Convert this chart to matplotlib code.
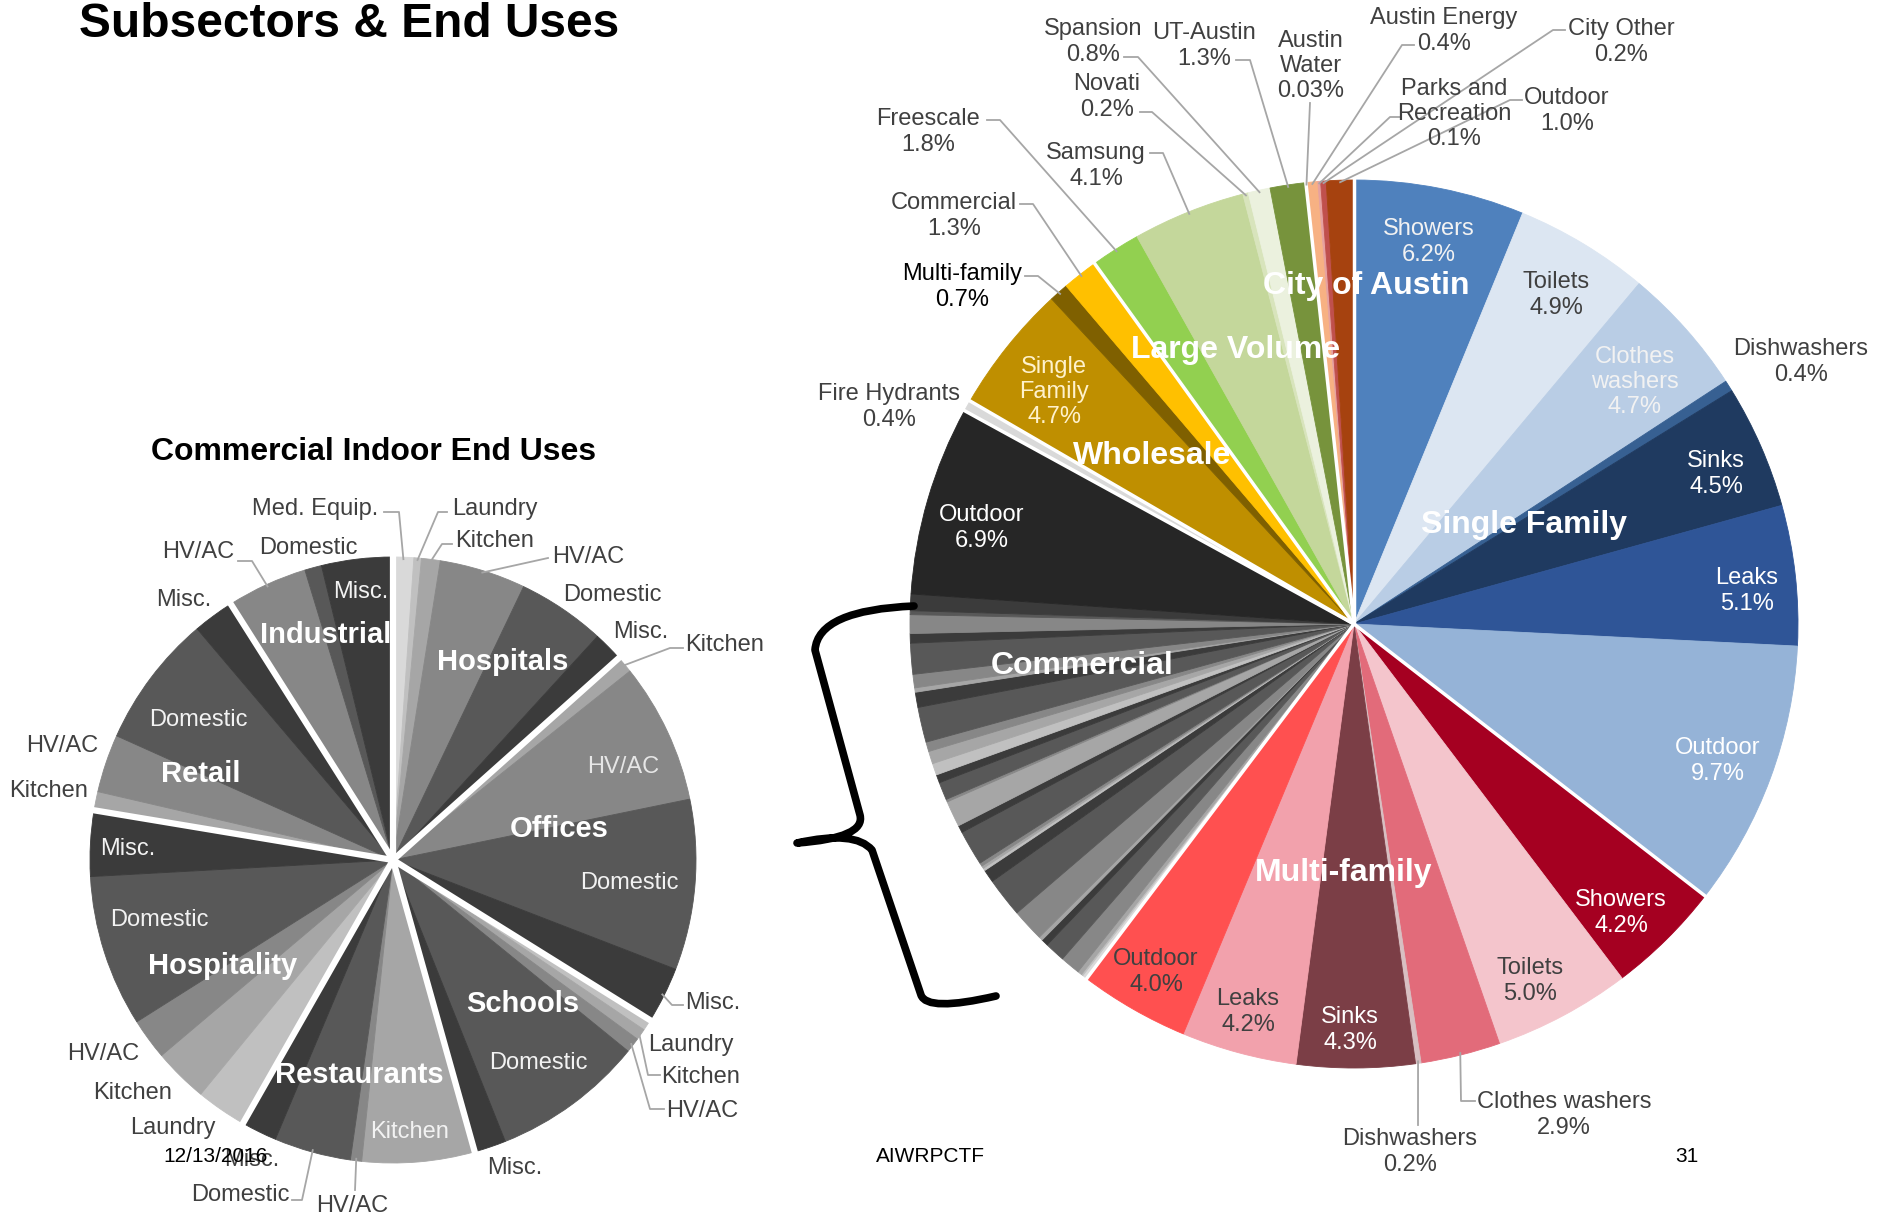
import numpy as np
import matplotlib.pyplot as plt
from matplotlib.path import Path
from matplotlib.patches import PathPatch

plt.rcParams['font.family'] = ['Liberation Sans', 'DejaVu Sans']

W, H = 1878, 1218

# ---- left pie: commercial indoor end uses (share of commercial indoor, %) ----
left_groups = ["Hospitals", "Offices", "Schools", "Restaurants",
               "Hospitality", "Retail", "Industrial"]
hospitals_uses = ["Med. Equip.", "Laundry", "Kitchen", "HV/AC", "Domestic", "Misc."]
hospitals_share = [1.1, 0.4, 1.0, 4.6, 4.7, 1.6]
offices_uses = ["Kitchen", "HV/AC", "Domestic", "Misc."]
offices_share = [0.9, 7.5, 9.1, 3.0]
schools_uses = ["Laundry", "Kitchen", "HV/AC", "Domestic", "Misc."]
schools_share = [0.6, 0.6, 0.8, 8.1, 1.7]
restaurants_uses = ["Kitchen", "HV/AC", "Domestic", "Misc."]
restaurants_share = [6.0, 0.6, 4.1, 1.9]
hospitality_uses = ["Laundry", "Kitchen", "HV/AC", "Domestic", "Misc."]
hospitality_share = [2.7, 2.9, 2.2, 8.1, 3.5]
retail_uses = ["Kitchen", "HV/AC", "Domestic", "Misc."]
retail_share = [1.0, 3.1, 7.1, 2.2]
industrial_uses = ["HV/AC", "Domestic", "Misc."]
industrial_share = [4.3, 0.9, 3.8]

# ---- right pie: subsectors & end uses (% of total) ----
sf_uses = ["Showers", "Toilets", "Clothes washers", "Dishwashers", "Sinks", "Leaks", "Outdoor"]
sf_pct = [6.2, 4.9, 4.7, 0.4, 4.5, 5.1, 9.7]
mf_uses = ["Showers", "Toilets", "Clothes washers", "Dishwashers", "Sinks", "Leaks", "Outdoor"]
mf_pct = [4.2, 5.0, 2.9, 0.2, 4.3, 4.2, 4.0]
comm_indoor_pct = 15.8
comm_outdoor_pct = 6.9
fire_pct = 0.4
wholesale_names = ["Single Family", "Multi-family", "Commercial"]
wholesale_pct = [4.7, 0.7, 1.3]
lv_names = ["Freescale", "Samsung", "Novati", "Spansion", "UT-Austin"]
lv_pct = [1.8, 4.1, 0.2, 0.8, 1.3]
city_names = ["Austin Water", "Austin Energy", "Parks and Recreation", "City Other", "Outdoor"]
city_pct = [0.03, 0.4, 0.1, 0.2, 1.0]

# colours
use_colors = {"Med. Equip.": "#d9d9d9", "Laundry": "#c0c0c0", "Kitchen": "#a6a6a6",
              "HV/AC": "#878787", "Domestic": "#585858", "Misc.": "#3b3b3b"}
sf_colors = ["#4f81bd", "#dce6f2", "#b9cde5", "#376092", "#1f3a60", "#2f5597", "#95b3d7"]
mf_colors = ["#a50021", "#f4c5cc", "#e26b7a", "#d8bfc2", "#7b3e46", "#f2a1ac", "#ff5050"]
wholesale_colors = ["#bf8f00", "#7f6000", "#ffc000"]
lv_colors = ["#92d050", "#c4d79b", "#d8e4bc", "#ebf1de", "#77933c"]
city_colors = ["#f2dcdb", "#f7b183", "#e6a1a0", "#c0504d", "#a6420f"]
DARK = "#404040"
LEAD = "#a6a6a6"


def pct(v):
    return f"{v:.2f}%" if v < 0.1 else f"{v:.1f}%"


fig = plt.figure(figsize=(W / 100, H / 100), dpi=100)
ax = fig.add_axes([0, 0, 1, 1])


def T(x, y, s, **kw):
    kw.setdefault("ha", "center")
    kw.setdefault("va", "center")
    kw.setdefault("multialignment", "center")
    ax.text(x, H - y, s, zorder=6, **kw)


def line_px(pts, **kw):
    ax.plot([p[0] for p in pts], [H - p[1] for p in pts], zorder=5, **kw)


def edge_px(c, r, frac):
    th = np.radians(90 - 360 * frac)
    return (c[0] + r * np.cos(th), c[1] - r * np.sin(th))


def draw_pie(vals, cols, grps, c, r, sep_lw):
    vals = np.array(vals, float)
    wedges, _ = ax.pie(vals, colors=cols, startangle=90, counterclock=False,
                       radius=r, center=(c[0], H - c[1]))
    for w in wedges:
        w.set_edgecolor(w.get_facecolor())
        w.set_linewidth(0.6)
    tot = vals.sum()
    cum = np.cumsum(vals) / tot
    mids = cum - vals / tot / 2
    bounds = [0.0] + [cum[i] for i in range(len(vals) - 1) if grps[i] != grps[i + 1]]
    for b in bounds:
        line_px([c, edge_px(c, r + 2, b)], color="white", lw=sep_lw,
                solid_capstyle="butt")
    return mids


# ---------------- left pie ----------------
LC, LR = (393, 860), 303
left_lists = [(hospitals_uses, hospitals_share), (offices_uses, offices_share),
              (schools_uses, schools_share), (restaurants_uses, restaurants_share),
              (hospitality_uses, hospitality_share), (retail_uses, retail_share),
              (industrial_uses, industrial_share)]
l_vals, l_cols, l_grp, l_keys = [], [], [], []
for g, (uses, share) in zip(left_groups, left_lists):
    for u, s in zip(uses, share):
        l_vals.append(s)
        l_cols.append(use_colors[u])
        l_grp.append(g)
        l_keys.append((g, u))
l_mids = draw_pie(l_vals, l_cols, l_grp, LC, LR, 4.5)

# ---------------- right pie ----------------
RC, RR = (1354, 624), 444
r_vals, r_cols, r_grp, r_keys = [], [], [], []


def add(group, names, vals, cols):
    for n, v, col in zip(names, vals, cols):
        r_vals.append(v)
        r_cols.append(col)
        r_grp.append(group)
        r_keys.append((group, n))


add("SF", sf_uses, sf_pct, sf_colors)
add("MF", mf_uses, mf_pct, mf_colors)
l_tot = sum(l_vals)
add("COM", [k[0] + k[1] for k in l_keys],
    [comm_indoor_pct * v / l_tot for v in l_vals], l_cols)
add("COM", ["Outdoor"], [comm_outdoor_pct], ["#262626"])
add("FH", ["Fire Hydrants"], [fire_pct], ["#d9d9d9"])
add("WS", wholesale_names, wholesale_pct, wholesale_colors)
add("LV", lv_names, lv_pct, lv_colors)
add("CITY", city_names, city_pct, city_colors)
r_mids = draw_pie(r_vals, r_cols, r_grp, RC, RR, 2.5)

ax.set_xlim(0, W)
ax.set_ylim(0, H)
ax.set_aspect("auto")
ax.axis("off")

FS = 17

# right pie labels inside slices
right_inside = {
    ("SF", "Showers"): (1429, 242, "#f2f2f2", "Showers"),
    ("SF", "Toilets"): (1556, 295, DARK, "Toilets"),
    ("SF", "Clothes washers"): (1635, 382, "#f2f2f2", "Clothes\nwashers"),
    ("SF", "Sinks"): (1716, 474, "white", "Sinks"),
    ("SF", "Leaks"): (1747, 591, "white", "Leaks"),
    ("SF", "Outdoor"): (1718, 761, "white", "Outdoor"),
    ("MF", "Showers"): (1621, 913, "white", "Showers"),
    ("MF", "Toilets"): (1530, 981, DARK, "Toilets"),
    ("MF", "Sinks"): (1350, 1030, "white", "Sinks"),
    ("MF", "Leaks"): (1248, 1012, DARK, "Leaks"),
    ("MF", "Outdoor"): (1156, 972, DARK, "Outdoor"),
    ("COM", "Outdoor"): (982, 528, "white", "Outdoor"),
    ("WS", "Single Family"): (1054, 392, "#fff2cc", "Single\nFamily"),
}
for key, (x, y, col, name) in right_inside.items():
    v = r_vals[r_keys.index(key)]
    T(x, y, f"{name}\n{pct(v)}", color=col, fontsize=FS)

# right pie labels outside with leader lines
right_outside = {
    ("SF", "Dishwashers"): (1801, 362, DARK, "Dishwashers", []),
    ("MF", "Clothes washers"): (1564, 1115, DARK, "Clothes washers", [(1461, 1101), (1475, 1101)]),
    ("MF", "Dishwashers"): (1410, 1152, DARK, "Dishwashers", [(1418, 1125)]),
    ("FH", "Fire Hydrants"): (889, 407, DARK, "Fire Hydrants", []),
    ("WS", "Multi-family"): (962, 287, "black", "Multi-family", [(1038, 276), (1025, 276)]),
    ("WS", "Commercial"): (954, 216, DARK, "Commercial", [(1033, 204), (1020, 204)]),
    ("LV", "Freescale"): (928, 132, DARK, "Freescale", [(1000, 120), (987, 120)]),
    ("LV", "Samsung"): (1096, 166, DARK, "Samsung", [(1163, 153), (1150, 153)]),
    ("LV", "Novati"): (1107, 97, DARK, "Novati", [(1152, 112), (1140, 112)]),
    ("LV", "Spansion"): (1093, 42, DARK, "Spansion", [(1138, 57), (1124, 57)]),
    ("LV", "UT-Austin"): (1204, 46, DARK, "UT-Austin", [(1250, 60), (1236, 60)]),
    ("CITY", "Austin Water"): (1311, 66, DARK, "Austin\nWater", [(1310, 103)]),
    ("CITY", "Austin Energy"): (1444, 31, DARK, "Austin Energy", [(1402, 45), (1414, 45)]),
    ("CITY", "Parks and Recreation"): (1454, 114, DARK, "Parks and\nRecreation", [(1390, 117), (1400, 117)]),
    ("CITY", "City Other"): (1621, 42, DARK, "City Other", [(1553, 30), (1565, 30)]),
    ("CITY", "Outdoor"): (1567, 111, DARK, "Outdoor", [(1510, 100), (1522, 100)]),
}
for key, (x, y, col, name, pts) in right_outside.items():
    i = r_keys.index(key)
    T(x, y, f"{name}\n{pct(r_vals[i])}", color=col, fontsize=FS)
    if pts:
        line_px([edge_px(RC, RR - 2, r_mids[i])] + pts, color=LEAD, lw=1.3)

# right pie group names
right_groups = [("Single Family", 1524, 525), ("Multi-family", 1344, 873),
                ("Commercial", 1082, 666), ("Wholesale", 1152, 456),
                ("Large Volume", 1236, 350), ("City of Austin", 1366, 286)]
for name, x, y in right_groups:
    T(x, y, name, color="white", fontsize=23, fontweight="bold")

# left pie end-use labels
left_labels = {
    ("Offices", "HV/AC"): (623, 767, "#e6e6e6", []),
    ("Offices", "Domestic"): (629, 883, "#f2f2f2", []),
    ("Schools", "Domestic"): (538, 1063, "#f2f2f2", []),
    ("Restaurants", "Kitchen"): (410, 1132, "#f2f2f2", []),
    ("Hospitality", "Domestic"): (159, 920, "#f2f2f2", []),
    ("Hospitality", "Misc."): (128, 849, "#f2f2f2", []),
    ("Retail", "Domestic"): (198, 720, "#f2f2f2", []),
    ("Industrial", "Misc."): (361, 592, "#f2f2f2", []),
    ("Hospitals", "Med. Equip."): (315, 509, DARK, [(399, 512), (384, 512)]),
    ("Hospitals", "Laundry"): (495, 509, DARK, [(438, 512), (447, 512)]),
    ("Hospitals", "Kitchen"): (495, 541, DARK, [(442, 544), (452, 544)]),
    ("Hospitals", "HV/AC"): (588, 557, DARK, [(548, 558)]),
    ("Hospitals", "Domestic"): (612, 595, DARK, []),
    ("Hospitals", "Misc."): (641, 632, DARK, []),
    ("Offices", "Kitchen"): (725, 645, DARK, [(670, 648), (683, 648)]),
    ("Offices", "Misc."): (713, 1003, DARK, [(672, 1005), (683, 1005)]),
    ("Schools", "Laundry"): (691, 1045, DARK, []),
    ("Schools", "Kitchen"): (701, 1077, DARK, [(648, 1075), (660, 1075)]),
    ("Schools", "HV/AC"): (702, 1111, DARK, [(650, 1109), (664, 1109)]),
    ("Schools", "Misc."): (515, 1168, DARK, []),
    ("Restaurants", "HV/AC"): (352, 1206, DARK, [(355, 1190)]),
    ("Restaurants", "Domestic"): (240, 1195, DARK, [(302, 1200), (292, 1200)]),
    ("Restaurants", "Misc."): (252, 1160, DARK, []),
    ("Hospitality", "Laundry"): (173, 1128, DARK, []),
    ("Hospitality", "Kitchen"): (133, 1093, DARK, []),
    ("Hospitality", "HV/AC"): (103, 1054, DARK, []),
    ("Retail", "Kitchen"): (49, 791, DARK, []),
    ("Retail", "HV/AC"): (62, 746, DARK, []),
    ("Retail", "Misc."): (184, 600, DARK, []),
    ("Industrial", "HV/AC"): (198, 552, DARK, [(252, 561), (238, 561)]),
    ("Industrial", "Domestic"): (308, 548, DARK, []),
}
for key, (x, y, col, pts) in left_labels.items():
    i = l_keys.index(key)
    T(x, y, key[1], color=col, fontsize=FS)
    if pts:
        line_px([edge_px(LC, LR - 2, l_mids[i])] + pts, color=LEAD, lw=1.3)

left_group_pos = {"Hospitals": (503, 662), "Offices": (559, 829), "Schools": (523, 1004),
                  "Restaurants": (359, 1075), "Hospitality": (223, 966),
                  "Retail": (201, 774), "Industrial": (326, 635)}
for g in left_groups:
    x, y = left_group_pos[g]
    T(x, y, g, color="white", fontsize=21, fontweight="bold")

# titles and footer
T(79, 37, "Subsectors & End Uses", ha="left", va="baseline", fontsize=34.5,
  fontweight="bold", color="black")
T(374, 452, "Commercial Indoor End Uses", fontsize=23, fontweight="bold", color="black")
T(216, 1156, "12/13/2016", fontsize=15, color="black")
T(930, 1156, "AIWRPCTF", fontsize=15, color="black")
T(1687, 1156, "31", fontsize=15, color="black")

# curly brace linking the commercial slices to the left pie
bp = [(914, 606), (818, 610), (815, 650), (860, 815), (866, 838), (797, 843),
      (855, 830), (872, 850), (921, 995), (927, 1012), (996, 996)]
codes = [Path.MOVETO, Path.CURVE3, Path.CURVE3, Path.LINETO, Path.CURVE3, Path.CURVE3,
         Path.CURVE3, Path.CURVE3, Path.LINETO, Path.CURVE3, Path.CURVE3]
brace = Path([(x, H - y) for x, y in bp], codes)
ax.add_patch(PathPatch(brace, fill=False, lw=5.5, edgecolor="black",
                       capstyle="round", joinstyle="round", zorder=6))

fig.savefig("out.png", dpi=100, facecolor="white")
